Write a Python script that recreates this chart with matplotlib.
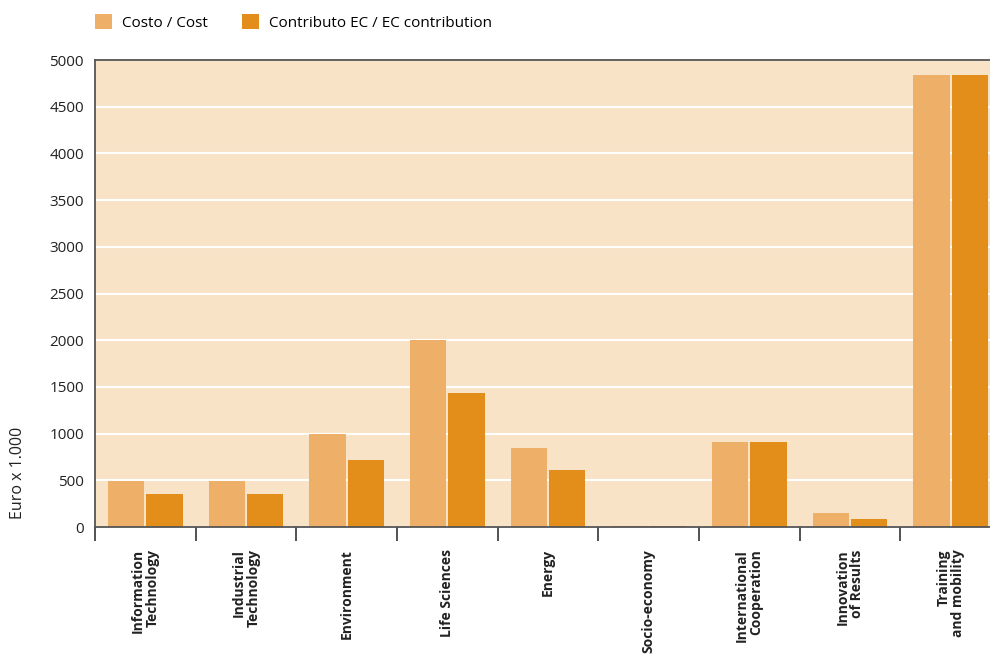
import matplotlib.pyplot as plt
import numpy as np

categories = ['Information\nTechnology', 'Industrial\nTechnology', 'Environment',
              'Life Sciences', 'Energy', 'Socio-economy', 'International\nCooperation',
              'Innovation\nof Results', 'Training\nand mobility']
cost = [495, 495, 1000, 2000, 850, 10, 910, 150, 4840]
ec_contribution = [355, 355, 720, 1440, 610, 10, 910, 90, 4840]
yticks = [0, 500, 1000, 1500, 2000, 2500, 3000, 3500, 4000, 4500, 5000]

plt.rcParams['font.family'] = ['Open Sans', 'DejaVu Sans']

fig = plt.figure(figsize=(9.9, 6.64), dpi=100)
ax = fig.add_axes([0.096, 0.2063, 0.915, 0.7033])
ax.set_facecolor('#F9E3C7')

x = np.arange(len(categories)) + 0.5
w = 0.36
ax.bar(x - 0.19, cost, w, color='#EEB068', label='Costo / Cost', zorder=2)
ax.bar(x + 0.19, ec_contribution, w, color='#E38E1B', label='Contributo EC / EC contribution', zorder=2)

ax.set_xlim(0, len(categories))
ax.set_ylim(0, 5000)
ax.set_yticks(yticks)
ax.set_yticklabels([str(v) for v in yticks], fontsize=11, color='#222222')
ax.tick_params(axis='y', length=0, pad=8)
ax.yaxis.grid(True, color='white', linewidth=1.5, zorder=1)
ax.set_axisbelow(True)

# major ticks at category boundaries, labels on minor ticks
ax.set_xticks(np.arange(len(categories) + 1))
ax.set_xticklabels([])
ax.tick_params(axis='x', which='major', length=10, width=1.2, color='#333333', direction='out')
ax.set_xticks(x, minor=True)
ax.set_xticklabels(categories, minor=True, rotation=90, fontsize=10, fontweight='bold',
                   va='top', ha='center', multialignment='right', color='#222222',
                   linespacing=1.05)
ax.tick_params(axis='x', which='minor', length=0, pad=16)

for side in ['left', 'top', 'bottom']:
    ax.spines[side].set_color('#555555')
    ax.spines[side].set_linewidth(1.3)
ax.spines['right'].set_visible(False)
ax.spines['bottom'].set_zorder(3)

ax.set_ylabel('Euro x 1.000', fontsize=11.5, color='#222222')
ax.yaxis.set_label_coords(-0.076, 0.116)

ax.legend(loc='lower left', bbox_to_anchor=(-0.007, 1.05), ncol=2, frameon=False,
          fontsize=11, handlelength=1.1, handleheight=1.1, columnspacing=2.2,
          handletextpad=0.7, borderaxespad=0)

plt.savefig('out.png', dpi=100)
